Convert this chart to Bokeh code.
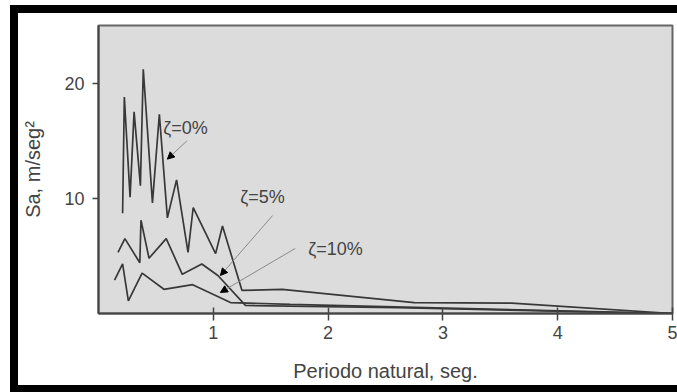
from bokeh.plotting import figure
from bokeh.models import Range1d, FixedTicker, Arrow, NormalHead, InlineStyleSheet
from bokeh.core.properties import value
from bokeh.embed import file_html
from bokeh.resources import INLINE

# --- data ---
period_0 = [0.21, 0.225, 0.275, 0.31, 0.365, 0.39, 0.47, 0.53, 0.60, 0.68, 0.78, 0.825, 1.02, 1.08, 1.25, 1.60, 2.75, 3.60, 5.0]
sa_0 = [8.7, 18.8, 10.1, 17.5, 11.1, 21.2, 9.6, 17.3, 8.3, 11.6, 5.3, 9.2, 5.2, 7.6, 2.0, 2.1, 0.95, 0.9, 0.0]

period_5 = [0.17, 0.23, 0.36, 0.37, 0.44, 0.59, 0.73, 0.90, 1.04, 1.28, 2.6, 5.0]
sa_5 = [5.3, 6.5, 4.4, 8.1, 4.8, 6.5, 3.4, 4.3, 3.3, 0.7, 0.5, 0.0]

period_10 = [0.14, 0.21, 0.26, 0.38, 0.57, 0.82, 1.15, 1.67, 5.0]
sa_10 = [2.9, 4.3, 1.1, 3.5, 2.1, 2.5, 0.95, 0.8, 0.0]

x_ticks = [1, 2, 3, 4, 5]
y_ticks = [10, 20]

label_texts = ["ζ=0%", "ζ=5%", "ζ=10%"]
label_x = [0.564, 1.235, 1.827]
label_y = [16.1, 10.1, 5.57]

arrow_x0 = [0.772, 1.516, 1.714]
arrow_y0 = [15.0, 8.5, 5.65]
arrow_x1 = [0.60, 1.062, 1.062]
arrow_y1 = [13.4, 3.3, 1.83]

FONT = "Liberation Sans"
LINE = "#383838"
TEXT = "#444444"

p = figure(width=677, height=392, output_backend="svg", toolbar_location=None,
           x_range=Range1d(0, 5), y_range=Range1d(0, 25),
           min_border_left=98, min_border_right=5, min_border_top=25, min_border_bottom=79)

# black picture frame (top, left, bottom) drawn over the canvas edges
p.stylesheets = [InlineStyleSheet(css="""
:host { position: relative; }
:host::after {
  content: "";
  position: absolute;
  left: 10px; top: 5px;
  width: 667px; height: 387px;
  box-sizing: border-box;
  border-left: 8px solid black;
  border-top: 8px solid black;
  border-bottom: 7px solid black;
  pointer-events: none;
  z-index: 100;
}
""")]
p.border_fill_color = "white"
p.background_fill_color = "#dcdcdc"
p.outline_line_color = "#666666"
p.outline_line_width = 2
p.xgrid.visible = False
p.ygrid.visible = False

for xs, ys in [(period_0, sa_0), (period_5, sa_5), (period_10, sa_10)]:
    p.line(xs, ys, line_color=LINE, line_width=1.7)

for i in range(3):
    p.add_layout(Arrow(end=NormalHead(size=7, fill_color="black", line_color="black"),
                       x_start=arrow_x0[i], y_start=arrow_y0[i],
                       x_end=arrow_x1[i], y_end=arrow_y1[i],
                       line_color="#8a8a8a", line_width=1))

p.text(x=label_x, y=label_y, text=label_texts, text_font=value(FONT), text_font_size="18px",
       text_color=TEXT, text_align="left", text_baseline="middle")

p.xaxis.ticker = FixedTicker(ticks=x_ticks)
p.yaxis.ticker = FixedTicker(ticks=y_ticks)
p.xaxis.axis_label = "Periodo natural, seg."
p.yaxis.axis_label = "Sa, m/seg²"

for ax in [p.xaxis[0], p.yaxis[0]]:
    ax.axis_line_color = "#444444"
    ax.axis_line_width = 2
    ax.major_tick_line_color = "#444444"
    ax.major_tick_line_width = 1.5
    ax.minor_tick_line_color = None
    ax.major_label_text_font = FONT
    ax.major_label_text_font_size = "18px"
    ax.major_label_text_color = TEXT
    ax.axis_label_text_font = FONT
    ax.axis_label_text_font_size = "20px"
    ax.axis_label_text_font_style = "normal"
    ax.axis_label_text_color = TEXT

p.xaxis.major_tick_in = 6
p.xaxis.major_tick_out = 7
p.xaxis.major_label_standoff = 5
p.xaxis.axis_label_standoff = 18
p.yaxis.major_tick_in = 0
p.yaxis.major_tick_out = 6
p.yaxis.major_label_standoff = 8
p.yaxis.axis_label_standoff = 17

open("out.html", "w").write(file_html(p, INLINE))
